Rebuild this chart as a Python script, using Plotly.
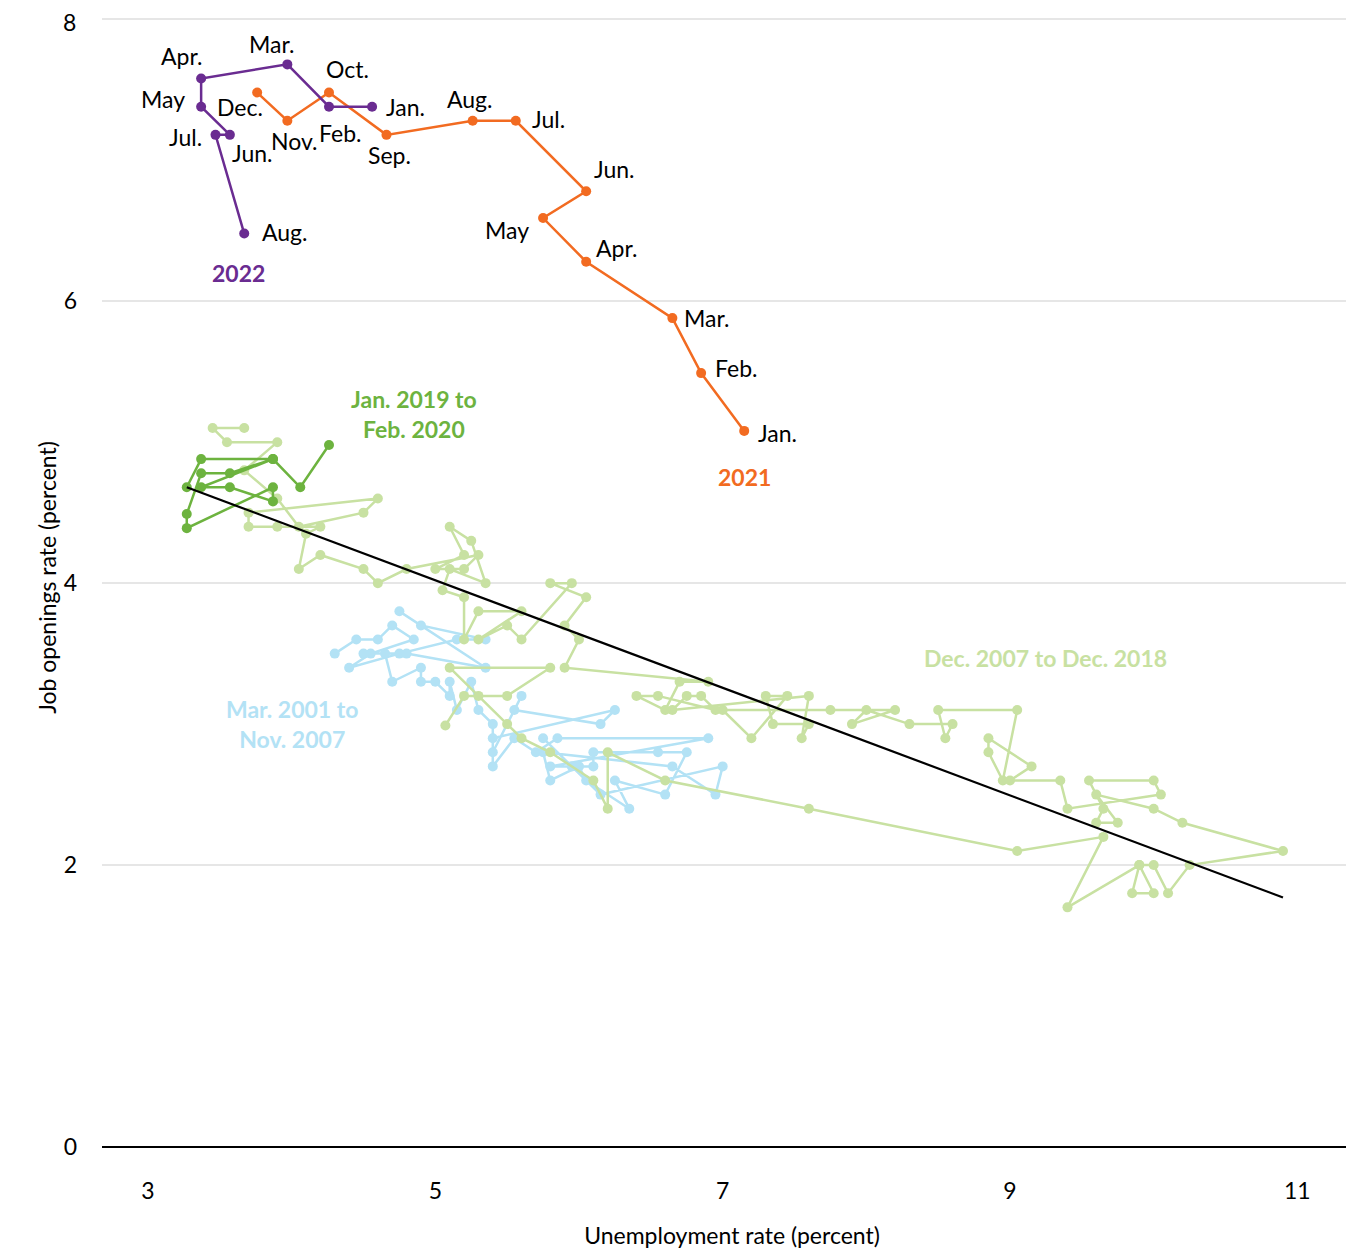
import plotly.graph_objects as go

# 2021 (orange)
o_labels = ["Jan.","Feb.","Mar.","Apr.","May","Jun.","Jul.","Aug.","Sep.","Oct.","Nov.","Dec."]
o_x = [7.15,6.85,6.65,6.05,5.75,6.05,5.56,5.26,4.66,4.26,3.97,3.76]
o_y = [5.08,5.49,5.88,6.28,6.59,6.78,7.28,7.28,7.18,7.48,7.28,7.48]
# 2022 (purple)
p_labels = ["Jan.","Feb.","Mar.","Apr.","May","Jun.","Jul.","Aug."]
p_x = [4.56,4.26,3.97,3.37,3.37,3.57,3.47,3.67]
p_y = [7.38,7.38,7.68,7.58,7.38,7.18,7.18,6.48]
# Jan 2019 - Feb 2020 (green)
g_x = [3.27,3.37,3.87,3.57,3.37,3.27,3.27,3.87,3.87,3.57,3.37,3.87,4.06,4.26]
g_y = [4.68,4.88,4.88,4.78,4.78,4.49,4.39,4.68,4.58,4.68,4.68,4.88,4.68,4.98]
# Mar 2001 - Nov 2007 (blue)
b_x = [4.3,4.45,4.6,4.7,4.85,4.55,4.4,4.75,5.15,5.35,4.9,4.75,5.35,4.8,4.5,4.65,4.7,4.9,4.9,5.0,5.1,5.1,5.15,
       5.25,5.3,5.4,5.4,5.6,5.55,6.15,6.25,5.4,5.4,5.55,5.7,5.85,6.9,5.8,6.1,6.1,6.55,6.75,6.6,6.25,6.35,6.05,
       6.0,5.8,5.75,6.65,6.95,7.0,6.15,5.95,5.75]
b_y = [3.5,3.6,3.6,3.7,3.6,3.5,3.4,3.5,3.6,3.6,3.7,3.8,3.4,3.5,3.5,3.5,3.3,3.4,3.3,3.3,3.2,3.3,3.1,
       3.3,3.1,3.0,2.8,3.2,3.1,3.0,3.1,2.9,2.7,2.9,2.8,2.9,2.9,2.7,2.7,2.8,2.8,2.8,2.5,2.6,2.4,2.6,
       2.7,2.6,2.8,2.7,2.5,2.7,2.5,2.7,2.9]
# Dec 2007 - Dec 2018 (light green)
l_x = [5.07,5.2,5.5,5.8,5.1,5.3,5.5,5.6,5.8,6.1,6.2,6.2,6.6,7.6,9.05,9.65,9.4,9.9,9.85,10.0,9.9,10.0,10.1,10.25,
       10.9,10.2,10.0,9.6,9.75,9.6,9.65,9.55,10.0,10.05,9.4,9.35,9.0,9.15,8.85,8.85,8.95,9.05,8.5,8.55,8.6,8.3,
       8.0,7.9,8.2,7.75,7.0,7.2,7.45,7.3,7.35,7.6,7.55,7.6,6.65,6.75,6.85,6.95,6.55,6.4,6.6,6.7,6.9,5.9,6.0,5.9,
       6.05,5.8,5.95,5.6,5.5,5.3,5.6,5.3,5.2,5.2,5.05,5.1,5.35,5.25,5.1,5.2,5.0,5.2,5.3,4.8,4.6,4.5,4.2,4.05,
       4.1,4.2,3.9,3.7,3.7,4.6,4.5,4.05,3.9,3.67,3.9,3.55,3.45,3.67]
l_y = [2.99,3.2,3.2,3.4,3.4,3.2,3.0,2.9,2.8,2.6,2.4,2.8,2.6,2.4,2.1,2.2,1.7,2.0,1.8,1.8,2.0,2.0,1.8,2.0,
       2.1,2.3,2.4,2.5,2.3,2.3,2.4,2.6,2.6,2.5,2.4,2.6,2.6,2.7,2.9,2.8,2.6,3.1,3.1,2.9,3.0,3.0,
       3.1,3.0,3.1,3.1,3.1,2.9,3.2,3.2,3.0,3.0,2.9,3.2,3.1,3.2,3.2,3.1,3.2,3.2,3.1,3.3,3.3,3.4,3.6,3.7,
       3.9,4.0,4.0,3.6,3.7,3.6,3.8,3.8,3.6,3.9,3.95,4.1,4.0,4.3,4.4,4.2,4.1,4.1,4.2,4.1,4.0,4.1,4.2,4.1,
       4.35,4.4,4.4,4.4,4.5,4.6,4.5,4.4,4.6,4.8,5.0,5.0,5.1,5.1]
trend_x = [3.27, 10.9]
trend_y = [4.68, 1.77]
y_ticks = [0, 2, 4, 6, 8]
x_ticks = [3, 5, 7, 9, 11]

ORANGE = "#f26b21"; PURPLE = "#6a2c91"; GREEN = "#6db33f"; LGREEN = "#c8e1a2"; BLUE = "#b3e2f5"
fig = go.Figure()
def series(x, y, c, w=2.5, s=10):
    fig.add_trace(go.Scatter(x=x, y=y, mode="lines+markers", line=dict(color=c, width=w),
                             marker=dict(color=c, size=s), showlegend=False, hoverinfo="skip"))
series(b_x, b_y, BLUE)
series(l_x, l_y, LGREEN)
series(g_x, g_y, GREEN)
series(o_x, o_y, ORANGE)
series(p_x, p_y, PURPLE)
fig.add_trace(go.Scatter(x=trend_x, y=trend_y, mode="lines", line=dict(color="black", width=2.2),
                         showlegend=False, hoverinfo="skip"))

F = "Lato, Open Sans, sans-serif"
def ann(x, y, t, c="black", xa="left", ya="middle", size=23, dx=0, dy=0, bold=False, xref="x"):
    fig.add_annotation(x=x, y=y, xref=xref, text=("<b>%s</b>" % t) if bold else t, showarrow=False, xanchor=xa,
                       yanchor=ya, xshift=dx, yshift=dy, font=dict(family=F, size=size, color=c), align="center")
o_off = {"Jan.":(12,-2,"left"),"Feb.":(12,5,"left"),"Mar.":(10,0,"left"),"Apr.":(8,14,"left"),"May":(-12,-12,"right"),
         "Jun.":(6,22,"left"),"Jul.":(14,2,"left"),"Aug.":(-28,22,"left"),"Sep.":(-20,-20,"left"),"Oct.":(-5,24,"left"),
         "Nov.":(-18,-20,"left"),"Dec.":(-42,-14,"left")}
for l, x, y in zip(o_labels, o_x, o_y):
    dx, dy, xa = o_off[l]; ann(x, y, l, dx=dx, dy=dy, xa=xa)
p_off = {"Jan.":(12,0,"left"),"Feb.":(-12,-26,"left"),"Mar.":(-40,20,"left"),"Apr.":(-42,22,"left"),"May":(-14,8,"right"),
         "Jun.":(0,-18,"left"),"Jul.":(-12,-2,"right"),"Aug.":(16,2,"left")}
for l, x, y in zip(p_labels, p_x, p_y):
    dx, dy, xa = p_off[l]; ann(x, y, l, dx=dx, dy=dy, xa=xa)
ann(3.63, 6.2, "2022", PURPLE, xa="center", bold=True)
ann(7.15, 4.75, "2021", ORANGE, xa="center", bold=True)
ann(4.85, 5.2, "Jan. 2019 to<br>Feb. 2020", GREEN, xa="center", bold=True)
ann(4.0, 3.0, "Mar. 2001 to<br>Nov. 2007", BLUE, xa="center", bold=True)
ann(9.25, 3.47, "Dec. 2007 to Dec. 2018", LGREEN, xa="center", bold=True)
# top tick label (would be clipped otherwise)
ann(0, y_ticks[-1], str(y_ticks[-1]), xa="right", ya="top", dx=-24, dy=13, xref="paper")

fig.update_layout(
    width=1354, height=1251, margin=dict(l=94, r=0, t=0, b=112),
    paper_bgcolor="white", plot_bgcolor="white",
    font=dict(family=F, size=23, color="black"),
    xaxis=dict(range=[2.68, 11.45], tickvals=x_ticks, showgrid=False, zeroline=False,
               showline=False, ticks="", ticklabelstandoff=28,
               title=dict(text="Unemployment rate (percent)", font=dict(size=23), standoff=24)),
    yaxis=dict(range=[0, 8.08], tickvals=y_ticks, ticktext=[str(v) for v in y_ticks[:-1]] + [""],
               showgrid=True, gridcolor="#e6e6e6", gridwidth=2,
               zeroline=True, zerolinecolor="black", zerolinewidth=1.5, ticks="", ticklabelstandoff=24,
               title=dict(text="Job openings rate (percent)", font=dict(size=23), standoff=0)),
)
fig.write_html("out.html")
